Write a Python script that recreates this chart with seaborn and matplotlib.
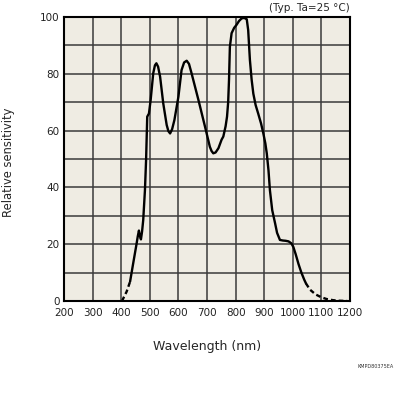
import numpy as np
import pandas as pd
import matplotlib
matplotlib.use("Agg")
import matplotlib.pyplot as plt
import seaborn as sns

# spectral response
wl_dash_left = [403, 410, 419, 431]
sens_dash_left = [0.0, 1.5, 3.3, 6.8]

wl_solid = [431, 442, 454, 458, 462, 465, 469, 473, 477, 483, 487, 491, 497, 503, 512,
            518, 523, 529, 536, 547, 559, 565, 571, 578, 586, 600, 611, 620, 629, 637,
            646, 658, 670, 693, 710, 716, 722, 730, 740, 751, 757, 765, 770, 774, 777,
            780, 786, 795, 803, 812, 821, 830, 839, 844, 850, 856, 862, 870, 879, 889,
            897, 904, 909, 915, 920, 928, 938, 945, 955, 965, 975, 985, 995, 1002,
            1010, 1020, 1030, 1040, 1046]
sens_solid = [6.8, 13.3, 20.3, 22.8, 24.8, 23.0, 21.7, 24.5, 28.5, 39.0, 49.6, 64.9, 66.0,
              70.8, 80.2, 83.0, 83.7, 82.5, 79.0, 69.6, 62.0, 59.8, 59.0, 60.5, 63.7, 71.9,
              81.3, 84.0, 84.6, 83.5, 80.2, 75.5, 70.8, 61.4, 54.3, 52.8, 52.0, 52.3, 53.8,
              56.8, 57.9, 61.5, 64.9, 70.0, 78.0, 89.5, 94.3, 96.2, 97.2, 98.6, 99.5, 99.7,
              99.2, 95.4, 84.9, 78.0, 73.0, 69.0, 66.0, 62.5, 59.0, 55.5, 52.0, 46.0, 39.0,
              32.0, 27.4, 24.0, 21.5, 21.3, 21.2, 21.0, 20.3, 19.0, 16.5, 13.0, 10.0, 7.5, 6.2]

wl_dash_right = [1046, 1060, 1080, 1100, 1118, 1140, 1160, 1190]
sens_dash_right = [6.2, 4.0, 2.3, 1.3, 0.7, 0.3, 0.1, 0.0]

x_ticks = list(range(200, 1201, 100))
y_ticks = [0, 20, 40, 60, 80, 100]

sns.set_style("white")
plt.rcParams["font.family"] = ["DejaVu Sans"]

fig = plt.figure(figsize=(3.96, 3.96), dpi=100)
ax = fig.add_axes([64 / 396, 1 - 301 / 396, 286 / 396, 284 / 396])
ax.set_facecolor("#efece3")

ax.set_xlim(200, 1200)
ax.set_ylim(0, 100)
ax.set_xticks(x_ticks)
ax.set_yticks(y_ticks)
ax.set_yticks(range(10, 100, 20), minor=True)
ax.grid(True, which="both", color="#3a3a3a", lw=1.1)
ax.set_axisbelow(True)
ax.tick_params(which="both", length=0, labelsize=7.5, colors="#222222")
ax.tick_params(axis="y", pad=3)
ax.tick_params(axis="x", pad=5)
for s in ax.spines.values():
    s.set_color("black")
    s.set_linewidth(1.5)

line_kw = dict(color="black", lw=1.7, sort=False, estimator=None, ax=ax, legend=False)
sns.lineplot(x=wl_solid, y=sens_solid, **line_kw)
sns.lineplot(x=wl_dash_left, y=sens_dash_left, linestyle=(0, (2, 1.3)), **line_kw)
sns.lineplot(x=wl_dash_right, y=sens_dash_right, linestyle=(0, (2, 1.3)), **line_kw)

ax.set_xlabel("Wavelength (nm)", fontsize=9, labelpad=16)
ax.set_ylabel("Relative sensitivity", fontsize=8.3)
ax.yaxis.set_label_coords(-0.17, 0.49)
ax.set_title("(Typ. Ta=25 °C)", fontsize=7.5, loc="right", pad=4)
fig.text(394 / 396, 1 - 367 / 396, "KMPD80375EA", fontsize=3.5, ha="right", va="center",
         color="#333333")

fig.savefig("out.png", dpi=100)
